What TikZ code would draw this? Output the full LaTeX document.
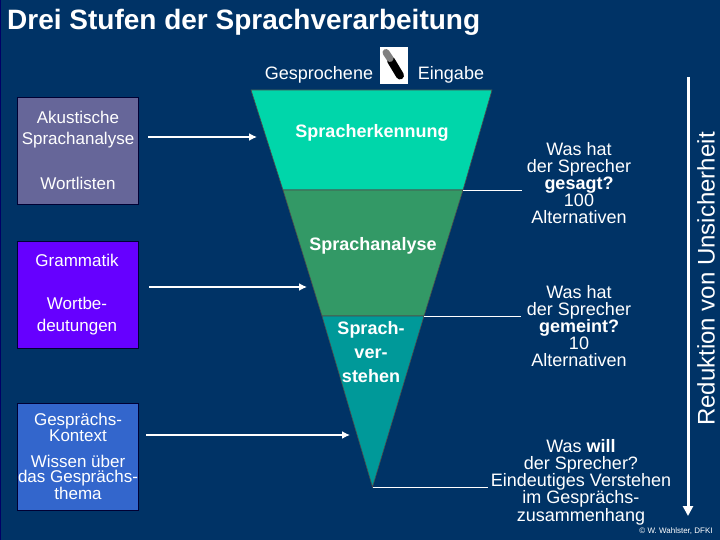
\documentclass[tikz,border=0pt]{standalone}
\usepackage{fontspec}
\setmainfont{Liberation Sans}
\usetikzlibrary{arrows.meta,positioning}
\definecolor{slidebg}{RGB}{0,51,102}
\definecolor{bandone}{RGB}{0,214,170}
\definecolor{bandtwo}{RGB}{51,153,102}
\definecolor{bandthree}{RGB}{0,153,153}
\definecolor{boxone}{RGB}{102,102,153}
\definecolor{boxtwo}{RGB}{102,0,255}
\definecolor{boxthree}{RGB}{51,102,204}
\tikzset{%
  % boxes on the left
  knowledge/.style={draw=black!80!blue, minimum width=121pt, minimum height=107pt, inner sep=0pt, anchor=north west},
  boxtext/.style={text=white, align=center, font=\fontsize{17}{14.5}\selectfont},
  % funnel
  band/.style={draw=black!70, line width=0.6pt},
  bandtext/.style={text=white, align=center, font=\fontsize{18}{24}\selectfont\bfseries},
  % edge styles
  feed/.style={-{Latex[length=8pt,width=8pt]}, white, line width=2.2pt},
  lead/.style={white, line width=0.7pt},
  answer/.style={text=white, align=center, font=\fontsize{18}{17.2}\selectfont},
}
\begin{document}
\begin{tikzpicture}[x=1pt, y=-1pt]
  \fill[slidebg] (0,0) rectangle (720,540);
  \useasboundingbox (0,0) rectangle (720,540);
  \draw[black!60!blue, line width=1pt] (0.5,0) -- (0.5,540);
  \node[text=white, anchor=west, inner sep=0pt, font=\fontsize{28}{30}\selectfont\bfseries] (title) at (7,22) {Drei Stufen der Sprachverarbeitung};

  % funnel
  \coordinate (tl) at (251,90);
  \coordinate (tr) at (492,90);
  \coordinate (al) at (283,190);
  \coordinate (ar) at (463,190);
  \coordinate (bl) at (322,316);
  \coordinate (br) at (424,316);
  \coordinate (tip) at (372.5,487);
  \draw[band, fill=bandone] (tl) -- (tr) -- (ar) -- (al) -- cycle;
  \draw[band, fill=bandtwo] (al) -- (ar) -- (br) -- (bl) -- cycle;
  \draw[band, fill=bandthree] (bl) -- (br) -- (tip) -- cycle;
  \node[bandtext] (erkennung) at (372,133) {Spracherkennung};
  \node[bandtext] (analyse) at (373,246) {Sprachanalyse};
  \node[bandtext] (verstehen) at (371,352) {Sprach-\\ver-\\stehen};

  % input
  \node[text=white, font=\fontsize{18}{20}\selectfont] (gesprochen) at (319,74.5) {Gesprochene};
  \node[fill=white, minimum width=28pt, minimum height=37pt, inner sep=0pt] (mic) at (394,65.5) {};
  \draw[black, line width=8pt, line cap=round] ([shift={(-3,-5)}]mic.center) -- ([shift={(6,10)}]mic.center);
  \draw[gray, line width=7pt, line cap=round] ([shift={(-8,-13)}]mic.center) -- ([shift={(-4,-7)}]mic.center);
  \node[text=white, font=\fontsize{18}{20}\selectfont] (eingabe) at (451,74.5) {Eingabe};

  % knowledge sources
  \node[knowledge, fill=boxone] (akustik) at (17,97) {};
  \node[knowledge, fill=boxtwo, below=37pt of akustik.south west, anchor=north west] (grammatik) {};
  \node[knowledge, fill=boxthree, below=54pt of grammatik.south west, anchor=north west] (kontext) {};
  \node[boxtext] (akustiktext) at (78,117.5) {Akustische};
  \node[boxtext] (sprachtext) at (78,140) {Sprachanalyse};
  \node[boxtext] (wortlisten) at (78,183.5) {Wortlisten};
  \node[boxtext] (grammatiktext) at (77,260.5) {Grammatik};
  \node[boxtext, font=\fontsize{17}{22}\selectfont] (wortbe) at (77,316) {Wortbe-\\deutungen};
  \node[boxtext] (gespraech) at (78,427.5) {Gesprächs-\\Kontext};
  \node[boxtext] (wissen) at (78,477.5) {Wissen über\\das Gesprächs-\\thema};

  \coordinate (fromakustik) at (148,137);
  \coordinate (toakustik) at (257,137);
  \coordinate (fromgrammatik) at (149,287);
  \coordinate (togrammatik) at (307,287);
  \coordinate (fromkontext) at (146,435);
  \coordinate (tokontext) at (350,435);
  \draw[feed] (fromakustik) -- (toakustik);
  \draw[feed] (fromgrammatik) -- (togrammatik);
  \draw[feed] (fromkontext) -- (tokontext);

  % answers on the right
  \node[answer] (gesagt) at (579,183) {Was hat\\der Sprecher\\\textbf{gesagt?}\\100\\Alternativen};
  \node[answer] (gemeint) at (579,326) {Was hat\\der Sprecher\\\textbf{gemeint?}\\10\\Alternativen};
  \node[answer] (will) at (581,482) {Was \textbf{will}\\der Sprecher?\\Eindeutiges Verstehen\\im Gesprächs-\\zusammenhang};
  \coordinate (endone) at (522,190);
  \coordinate (endtwo) at (521,316);
  \coordinate (endthree) at (488,487);
  \draw[lead] (ar) -- (endone);
  \draw[lead] (br) -- (endtwo);
  \draw[lead] (tip) -- (endthree);

  % uncertainty
  \coordinate (unstart) at (688,77);
  \coordinate (unend) at (688,516);
  \draw[-{Triangle[length=10pt,width=10pt]}, white, line width=3pt] (unstart) -- (unend);
  \node[text=white, rotate=90, font=\fontsize{24}{26}\selectfont] (reduktion) at (706,279) {Reduktion von Unsicherheit};
  \node[text=white, font=\fontsize{8}{9}\selectfont] (credit) at (676,531) {© W. Wahlster, DFKI};
\end{tikzpicture}
\end{document}
